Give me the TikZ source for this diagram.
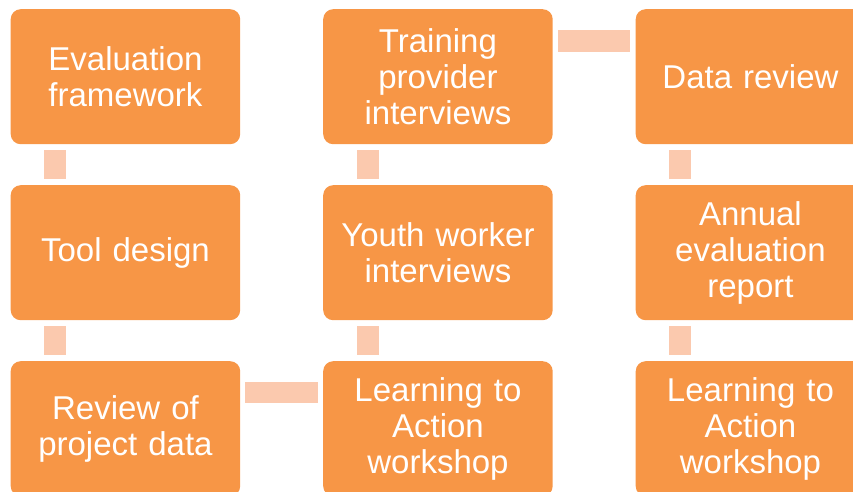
\documentclass[tikz,border=0pt]{standalone}
\usepackage{fontspec}
\setmainfont{Liberation Sans}
\definecolor{boxorange}{HTML}{F79646}
\definecolor{linkpeach}{HTML}{FBC9AE}
\begin{document}
\begin{tikzpicture}[x=1pt,y=-1pt,
  stepbox/.style={fill=boxorange, rounded corners=10pt, minimum width=229.5pt,
    minimum height=135pt, text=white, align=center, inner sep=0pt,
    text width=226pt, font=\fontsize{33}{36}\selectfont, anchor=north west},
  link/.style={fill=linkpeach}]
\useasboundingbox (0,0) rectangle (853,492);
\clip (0,0) rectangle (853,492);

% column 1
\node[stepbox] (a1) at (10.5,9)   {Evaluation\\framework};
\node[stepbox] (a2) at (10.5,185) {Tool design};
\node[stepbox] (a3) at (10.5,361) {Review of\\project data};
% column 2
\node[stepbox] (b1) at (323,9)   {Training\\provider\\interviews};
\node[stepbox] (b2) at (323,185) {Youth worker\\interviews};
\node[stepbox] (b3) at (323,361) {Learning to\\Action\\workshop};
% column 3
\node[stepbox] (c1) at (635.5,9)   {Data review};
\node[stepbox] (c2) at (635.5,185) {Annual\\evaluation\\report};
\node[stepbox] (c3) at (635.5,361) {Learning to\\Action\\workshop};

% vertical links, upper box first
\foreach \u/\v in {a1/a2, a2/a3, b1/b2, b2/b3, c1/c2, c2/c3}{
  \fill[link] ([xshift=33.5pt,yshift=-6pt]\u.south west)
    rectangle ([xshift=55.5pt,yshift=6pt]\v.north west);
}
% horizontal links
\fill[link] ([xshift=5pt,yshift=-21pt]a3.north east)
  rectangle ([xshift=-5.5pt,yshift=-42pt]b3.north west);
\fill[link] ([xshift=5.5pt,yshift=-21pt]b1.north east)
  rectangle ([xshift=-5.5pt,yshift=-43pt]c1.north west);
\end{tikzpicture}
\end{document}
